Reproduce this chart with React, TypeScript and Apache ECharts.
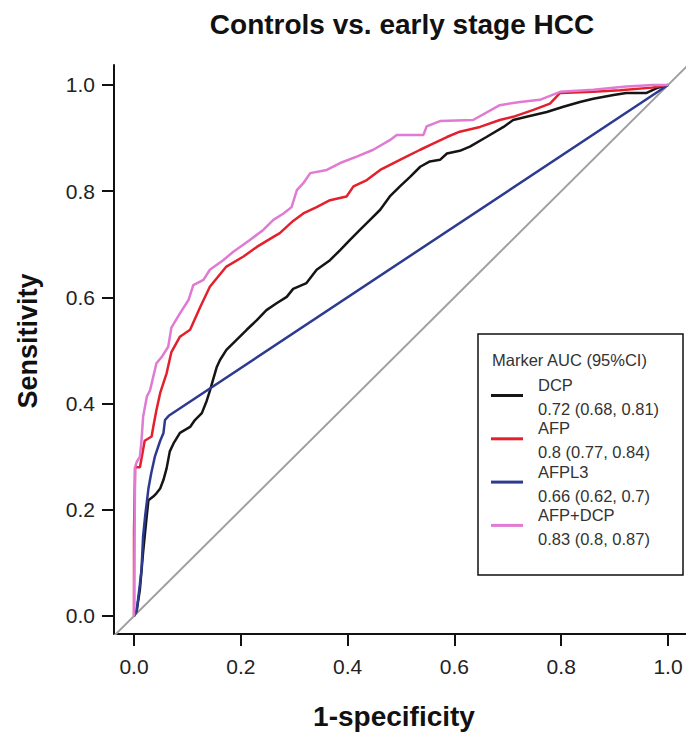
import React, { useEffect, useRef } from 'react';
import * as echarts from 'echarts';

const titleText = 'Controls vs. early stage HCC';
const xName = '1-specificity';
const yName = 'Sensitivity';
const legendTitle = 'Marker AUC (95%CI)';
const markers = ['DCP', 'AFP', 'AFPL3', 'AFP+DCP'];
const aucLabels = ['0.72 (0.68, 0.81)', '0.8 (0.77, 0.84)', '0.66 (0.62, 0.7)', '0.83 (0.8, 0.87)'];
const colors = ['#151515', '#e3202c', '#2c3a90', '#e07ad2'];
const tickValues = [0, 0.2, 0.4, 0.6, 0.8, 1.0];
const diagonal = [[-0.05, -0.05], [1.05, 1.05]];

const dcp = [
  [0, 0], [0.005, 0.01], [0.011, 0.05], [0.017, 0.12], [0.02, 0.15], [0.024, 0.19], [0.027, 0.218],
  [0.036, 0.225], [0.042, 0.231], [0.049, 0.24], [0.055, 0.256], [0.061, 0.278], [0.067, 0.31],
  [0.074, 0.325], [0.086, 0.345], [0.105, 0.356], [0.114, 0.369], [0.127, 0.382], [0.136, 0.405],
  [0.142, 0.424], [0.155, 0.469], [0.161, 0.482], [0.173, 0.501], [0.192, 0.52], [0.211, 0.539],
  [0.23, 0.557], [0.248, 0.576], [0.267, 0.589], [0.286, 0.601], [0.298, 0.616], [0.323, 0.627],
  [0.342, 0.652], [0.367, 0.67], [0.386, 0.689], [0.404, 0.708], [0.423, 0.727], [0.442, 0.746],
  [0.461, 0.765], [0.479, 0.79], [0.498, 0.809], [0.517, 0.827], [0.536, 0.846], [0.554, 0.856],
  [0.573, 0.859], [0.586, 0.871], [0.61, 0.876], [0.629, 0.884], [0.66, 0.902], [0.692, 0.921],
  [0.71, 0.934], [0.735, 0.94], [0.773, 0.949], [0.804, 0.959], [0.835, 0.968], [0.86, 0.974],
  [0.898, 0.981], [0.922, 0.985], [0.96, 0.985], [0.979, 0.994], [1, 1],
];

const afp = [
  [0, 0], [0, 0.16], [0.002, 0.28], [0.011, 0.28], [0.017, 0.313], [0.02, 0.33], [0.033, 0.338],
  [0.036, 0.356], [0.042, 0.388], [0.049, 0.42], [0.061, 0.457], [0.07, 0.497], [0.086, 0.526],
  [0.105, 0.539], [0.124, 0.582], [0.142, 0.62], [0.173, 0.658], [0.205, 0.677], [0.23, 0.695],
  [0.261, 0.714], [0.273, 0.721], [0.298, 0.744], [0.317, 0.758], [0.342, 0.77], [0.367, 0.783],
  [0.398, 0.79], [0.411, 0.809], [0.436, 0.821], [0.461, 0.84], [0.486, 0.853], [0.51, 0.865],
  [0.536, 0.878], [0.561, 0.89], [0.586, 0.902], [0.61, 0.912], [0.648, 0.921], [0.685, 0.934],
  [0.71, 0.94], [0.748, 0.953], [0.779, 0.965], [0.798, 0.985], [0.86, 0.987], [0.91, 0.99],
  [0.97, 0.995], [1, 1],
];

const afpl3 = [
  [0, 0], [0.005, 0.01], [0.011, 0.06], [0.014, 0.087], [0.017, 0.15], [0.021, 0.19], [0.027, 0.24],
  [0.032, 0.268], [0.039, 0.3], [0.049, 0.33], [0.055, 0.344], [0.058, 0.369], [0.065, 0.377], [1, 1],
];

const afpDcp = [
  [0, 0], [0.002, 0.28], [0.005, 0.29], [0.011, 0.3], [0.014, 0.33], [0.017, 0.375], [0.024, 0.413],
  [0.03, 0.425], [0.042, 0.476], [0.052, 0.488], [0.064, 0.507], [0.07, 0.543], [0.086, 0.57],
  [0.102, 0.595], [0.111, 0.623], [0.13, 0.633], [0.142, 0.652], [0.167, 0.67], [0.186, 0.686],
  [0.217, 0.708], [0.242, 0.727], [0.261, 0.746], [0.28, 0.758], [0.295, 0.77], [0.305, 0.802],
  [0.317, 0.815], [0.33, 0.834], [0.361, 0.84], [0.386, 0.853], [0.417, 0.865], [0.448, 0.878],
  [0.479, 0.896], [0.492, 0.906], [0.542, 0.906], [0.548, 0.922], [0.573, 0.932], [0.635, 0.934],
  [0.685, 0.962], [0.723, 0.968], [0.76, 0.972], [0.798, 0.987], [0.86, 0.991], [0.922, 0.997],
  [0.972, 1], [1, 1],
];

const seriesData = [dcp, afp, afpl3, afpDcp];

const FONT = '"Liberation Sans", Arial, Helvetica, sans-serif';

export default function App() {
  const ref = useRef<HTMLDivElement>(null);
  useEffect(() => {
    if (!ref.current) return;
    const chart = echarts.init(ref.current, null, { renderer: 'svg' });

    const legendText = (text: string, x: number, y: number) => ({
      type: 'text', z: 101, x, y,
      style: {
        text, fontSize: 16.5, fontFamily: FONT, fill: '#333',
        align: 'left', verticalAlign: 'middle',
      },
    });

    const legendGraphics: any[] = [
      {
        type: 'rect', z: 100,
        shape: { x: 478, y: 334, width: 205, height: 241 },
        style: { fill: '#fff', stroke: '#111', lineWidth: 1.5 },
      },
      legendText(legendTitle, 492, 360),
    ];
    markers.forEach((m, i) => {
      const ny = 385 + i * 43.3;
      legendGraphics.push({
        type: 'line', z: 101,
        shape: { x1: 491, y1: ny + 10.5, x2: 523, y2: ny + 10.5 },
        style: { stroke: colors[i], lineWidth: 3 },
      });
      legendGraphics.push(legendText(m, 538, ny));
      legendGraphics.push(legendText(aucLabels[i], 538, ny + 24));
    });

    const axisCommon = {
      type: 'value' as const,
      splitLine: { show: false },
      axisLine: { show: true, onZero: false, lineStyle: { color: '#111', width: 2 } },
      axisTick: { show: true, customValues: tickValues, length: 12, lineStyle: { color: '#111', width: 2 } },
    };

    chart.setOption({
      animation: false,
      backgroundColor: '#fff',
      textStyle: { fontFamily: FONT },
      grid: { left: 114, right: 0, top: 65, bottom: 101 },
      xAxis: {
        ...axisCommon,
        min: -0.0375,
        max: 1.0337,
        axisLabel: {
          customValues: tickValues,
          formatter: (v: number) => v.toFixed(1),
          fontSize: 21, color: '#222', margin: 22, fontFamily: FONT,
        },
      },
      yAxis: {
        ...axisCommon,
        min: -0.0339,
        max: 1.0376,
        axisLabel: {
          customValues: tickValues,
          formatter: (v: number) => v.toFixed(1),
          fontSize: 21, color: '#222', margin: 19, fontFamily: FONT,
        },
      },
      series: [
        {
          type: 'line', data: diagonal, symbol: 'none', silent: true,
          lineStyle: { color: '#a0a0a0', width: 2 }, z: 1,
        },
        ...seriesData.map((d, i) => ({
          name: markers[i],
          type: 'line',
          data: d,
          symbol: 'none',
          showSymbol: false,
          lineStyle: { color: colors[i], width: 2.5 },
          z: 2 + i,
        })),
      ],
      graphic: [
        {
          type: 'text', x: 402, y: 24, z: 100,
          style: { text: titleText, fontSize: 28, fontWeight: 'bold', fontFamily: FONT, fill: '#111', align: 'center', verticalAlign: 'middle' },
        },
        {
          type: 'text', x: 394, y: 716, z: 100,
          style: { text: xName, fontSize: 28, fontWeight: 'bold', fontFamily: FONT, fill: '#111', align: 'center', verticalAlign: 'middle' },
        },
        {
          type: 'text', x: 28, y: 341, z: 100, rotation: Math.PI / 2,
          style: { text: yName, fontSize: 27, fontWeight: 'bold', fontFamily: FONT, fill: '#111', align: 'center', verticalAlign: 'middle' },
        },
        ...legendGraphics,
      ],
    });
    return () => chart.dispose();
  }, []);
  return <div ref={ref} style={{ position: 'absolute', left: 0, top: 0, width: 686, height: 735 }} />;
}
